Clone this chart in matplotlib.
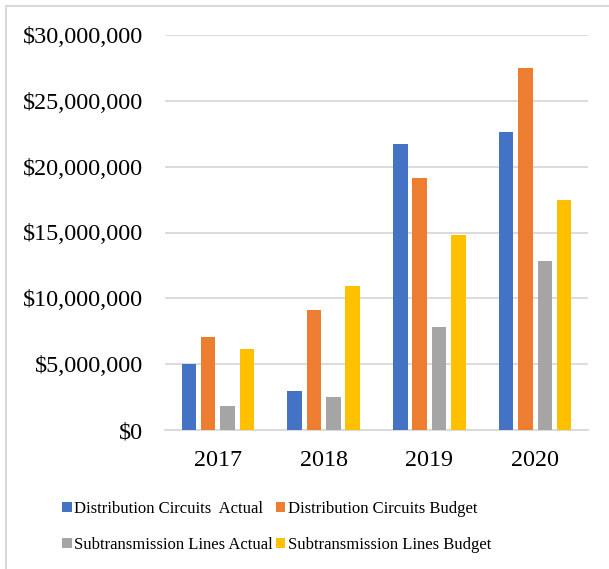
import matplotlib.pyplot as plt
import numpy as np
from matplotlib.patches import Rectangle
from matplotlib.ticker import FuncFormatter

# Годы и суммы по каждой серии
years = ["2017", "2018", "2019", "2020"]
dist_actual = [5.0e6, 2.98e6, 21.75e6, 22.6e6]
dist_budget = [7.06e6, 9.11e6, 19.13e6, 27.46e6]
sub_actual = [1.82e6, 2.5e6, 7.8e6, 12.83e6]
sub_budget = [6.13e6, 10.96e6, 14.78e6, 17.44e6]

series = [
    ("Distribution Circuits  Actual", dist_actual, "#4472C4"),
    ("Distribution Circuits Budget", dist_budget, "#ED7D31"),
    ("Subtransmission Lines Actual", sub_actual, "#A5A5A5"),
    ("Subtransmission Lines Budget", sub_budget, "#FFC000"),
]

plt.rcParams["font.family"] = ["Liberation Serif", "DejaVu Serif"]

fig = plt.figure(figsize=(6.09, 5.69), dpi=100)
ax = fig.add_axes([165 / 609, 1 - 430 / 569, 423 / 609, 395 / 569])

x = np.arange(len(years))
step = 0.183
width = 0.138
for i, (name, vals, color) in enumerate(series):
    ax.bar(x + (i - 1.5) * step, vals, width, color=color, label=name, zorder=3)

ax.set_xlim(-0.5, len(years) - 0.5)
ax.set_ylim(0, 30e6)
ax.set_yticks(np.arange(0, 30e6 + 1, 5e6))
ax.yaxis.set_major_formatter(FuncFormatter(lambda v, p: f"${v:,.0f}"))
ax.set_xticks(x)
ax.set_xticklabels(years)
ax.tick_params(axis="both", length=0, labelsize=17.4, colors="black")
ax.tick_params(axis="y", pad=16)
ax.tick_params(axis="x", pad=14.5)

ax.grid(axis="y", color="#D9D9D9", linewidth=1.3, zorder=0)
for s in ["top", "right", "left"]:
    ax.spines[s].set_visible(False)
ax.spines["bottom"].set_color("#D9D9D9")
ax.spines["bottom"].set_linewidth(1.3)

# Рамка вокруг всей области диаграммы
fig.patches.append(Rectangle((6 / 609, -0.1), 1.2, 1 - 6 / 569 + 0.1,
                             transform=fig.transFigure, fill=False,
                             edgecolor="#D9D9D9", linewidth=1.5))

# Легенда заполняется по строкам: порядок 0, 2, 1, 3
handles, labels = ax.get_legend_handles_labels()
order = [0, 2, 1, 3]
fig.legend([handles[i] for i in order], [labels[i] for i in order],
           ncol=2, loc="upper left",
           bbox_to_anchor=(49 / 609, 1 - 488 / 569), frameon=False,
           fontsize=12, handlelength=0.55, handleheight=0.55,
           handletextpad=0.15, columnspacing=0.2, labelspacing=1.18,
           borderpad=0.3)

fig.savefig("out.png", dpi=100)
